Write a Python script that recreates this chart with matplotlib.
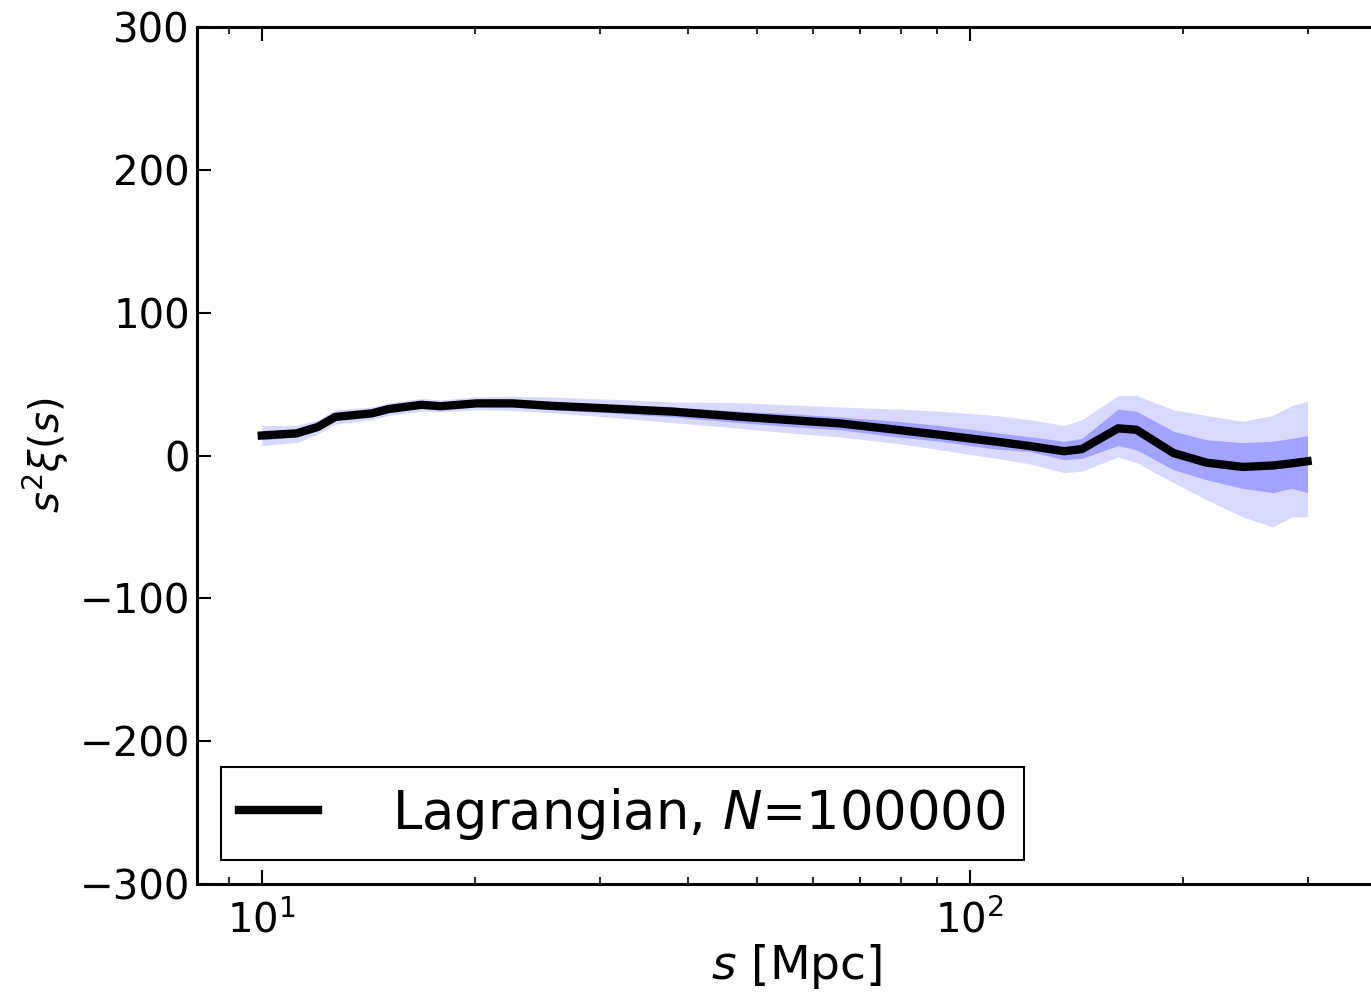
import numpy as np
import matplotlib
matplotlib.use('Agg')
import matplotlib.pyplot as plt

fs = 29

# separation bins [Mpc]
s = [10.0, 11.2, 12.0, 12.7, 14.3, 15.1, 16.8, 17.9, 20.1, 22.6, 25.6, 30.7,
     38.1, 47.3, 55.0, 65.5, 78.9, 90.7, 109.0, 122.0, 136.0, 144.0, 162.0,
     172.0, 194.0, 216.0, 243.0, 268.0, 285.0, 300.0]
# s^2 xi(s), mean
xi_mean = [14.0, 15.5, 20.0, 27.0, 29.5, 32.5, 35.5, 34.5, 36.5, 36.5, 34.8, 33.0,
           30.7, 27.2, 25.0, 22.5, 18.0, 14.5, 9.7, 6.5, 3.0, 4.5, 19.0,
           18.0, 1.7, -5.0, -8.0, -7.0, -5.5, -4.0]
# 1 sigma band
xi_in_lo = [11.0, 13.0, 18.0, 25.0, 27.5, 30.5, 33.5, 32.5, 34.5, 34.0, 32.0, 30.0,
            27.0, 23.0, 20.5, 18.0, 13.0, 10.0, 4.5, 2.7, -3.0, -2.0, 7.0,
            4.0, -10.0, -17.0, -23.0, -26.0, -23.0, -26.0]
xi_in_hi = [17.0, 18.0, 22.0, 29.0, 31.5, 34.5, 37.5, 36.5, 38.5, 39.0, 37.5, 36.0,
            34.0, 31.0, 29.5, 27.0, 24.0, 21.0, 16.0, 13.0, 10.0, 12.0, 32.5,
            31.0, 17.0, 11.0, 9.0, 10.0, 12.0, 14.0]
# 2 sigma band
xi_out_lo = [7.0, 9.0, 15.0, 22.0, 25.0, 28.0, 31.0, 30.5, 32.0, 31.5, 30.0, 27.0,
             23.0, 19.0, 16.0, 13.0, 8.5, 4.0, -2.0, -6.0, -12.0, -11.0, -1.0,
             -5.0, -19.0, -31.0, -43.0, -50.0, -43.0, -43.0]
xi_out_hi = [21.0, 21.0, 25.0, 32.0, 34.0, 37.0, 40.0, 39.0, 41.0, 41.5, 41.0, 39.5,
             37.5, 37.0, 35.5, 34.0, 32.5, 31.0, 28.0, 25.0, 21.0, 25.0, 42.0,
             42.0, 32.0, 28.0, 24.0, 28.0, 35.0, 38.0]

fig = plt.figure(figsize=(13.71, 10.05), dpi=100)
ax = fig.add_axes([197 / 1371, 1 - 884 / 1005, (1396 - 197) / 1371, (884 - 27) / 1005])

ax.fill_between(s, xi_out_lo, xi_out_hi, color='b', alpha=0.15, lw=0)
ax.fill_between(s, xi_in_lo, xi_in_hi, color='b', alpha=0.25, lw=0)
ax.plot(s, xi_mean, color='k', lw=6, label=r'Lagrangian, $N$=100000')

ax.set_xscale('log')
ax.set_xlim(8.1, 400)
ax.set_ylim(-300, 300)
ax.set_yticks(np.arange(-300, 301, 100))

for sp in ax.spines.values():
    sp.set_linewidth(2.2)
ax.tick_params(which='both', direction='in', top=True, right=True, labelsize=fs)
ax.tick_params(axis='x', pad=12)
ax.tick_params(axis='y', pad=5)
ax.tick_params(which='major', length=10, width=1.5)
ax.tick_params(which='minor', length=5, width=1.2)

ax.set_xlabel(r'$s$ [Mpc]', fontsize=34, labelpad=0)
ax.set_ylabel(r'$s^2\xi(s)$', fontsize=fs, labelpad=6)

leg = ax.legend(loc='lower left', fontsize=38, fancybox=False, framealpha=1,
                edgecolor='k', handlelength=1.5, handletextpad=1.4,
                borderaxespad=0.45, borderpad=0.35)
leg.get_frame().set_linewidth(1.5)

plt.savefig('out.png', dpi=100)
